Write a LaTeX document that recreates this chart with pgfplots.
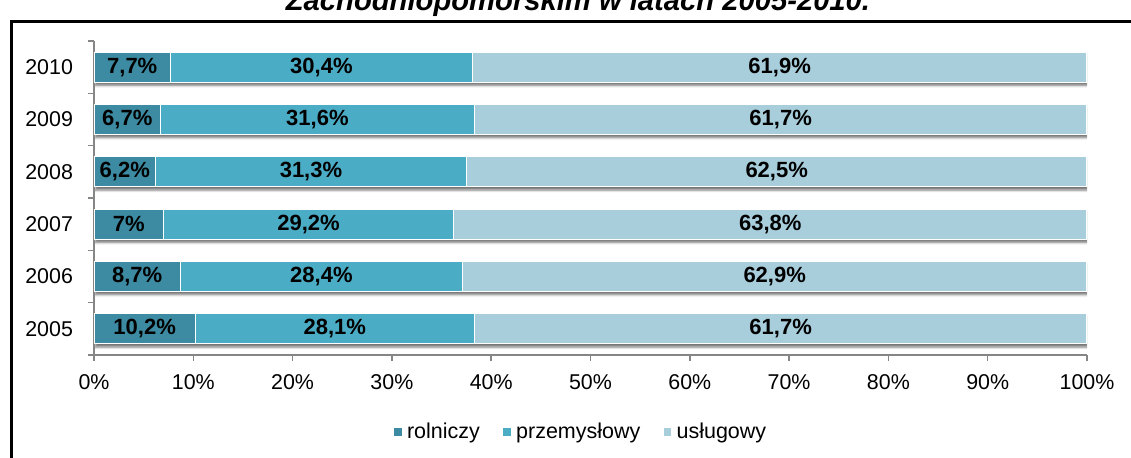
\documentclass[border=0pt]{standalone}
\usepackage{pgfplots}
\pgfplotsset{compat=1.18}
\usepackage{fontspec}
\setmainfont{Liberation Sans}
\usetikzlibrary{shadows.blur}
\definecolor{rol}{HTML}{3C8BA2}
\definecolor{prz}{HTML}{4BACC6}
\definecolor{usl}{HTML}{A8CEDC}
\definecolor{axgray}{HTML}{868686}
\pgfplotsset{
  base/.style={
    scale only axis, width=496.5pt, height=157pt,
    at={(47pt,51pt)}, anchor=south west,
    xmin=0, xmax=100, ymin=-0.5, ymax=5.5,
    bar width=15pt,
  },
}
\begin{document}
\begin{tikzpicture}[x=0.5pt,y=0.5pt]
\useasboundingbox (0,0) rectangle (1131,457);
\draw[line width=1.5pt] (11.5,-30) -- (11.5,436) -- (1160,436);
\node[font=\bfseries\itshape\fontsize{14.6}{17}\selectfont, anchor=base] at (578,447) {Zachodniopomorskim w latach 2005-2010.};

% shadow layer
\begin{axis}[base, hide axis]
\addplot[xbar, fill=white, draw=none, bar shift=0pt,
  blur shadow={shadow xshift=0.6pt, shadow yshift=-1.6pt, shadow opacity=55, shadow blur radius=1.2pt}]
  coordinates {(100,0) (100,1) (100,2) (100,3) (100,4) (100,5)};
\end{axis}

% main bars
\begin{axis}[base, xbar stacked,
  axis x line*=bottom, axis y line*=left,
  axis line style={axgray, line width=0.75pt},
  tick align=outside,
  major tick length=3pt,
  tick style={axgray, line width=0.75pt},
  xtick={0,10,...,100},
  xticklabel={\pgfmathprintnumber{\tick}\%},
  /pgf/number format/assume math mode=true,
  ytick={-0.5,0.5,1.5,2.5,3.5,4.5,5.5},
  yticklabels={},
  extra y ticks={0,1,2,3,4,5},
  extra y tick labels={2005,2006,2007,2008,2009,2010},
  extra y tick style={major tick length=0pt, yticklabel style={xshift=-7pt}},
  ticklabel style={font=\fontsize{10.7}{12}\selectfont, text=black},
  xticklabel style={yshift=-3pt},
  legend style={at={(0.491,-0.245)}, anchor=center, draw=none, fill=none,
    legend columns=3, font=\fontsize{10.75}{12}\selectfont,
    /tikz/every even column/.append style={column sep=9pt}},
  legend image code/.code={\fill[#1] (0pt,-2.2pt) rectangle (4.5pt,2.3pt);},
  legend cell align=left,
]
\addplot[fill=rol, draw=white, line width=0.6pt] coordinates {(10.2,0) (8.7,1) (7,2) (6.2,3) (6.7,4) (7.7,5)};
\addplot[fill=prz, draw=white, line width=0.6pt] coordinates {(28.1,0) (28.4,1) (29.2,2) (31.3,3) (31.6,4) (30.4,5)};
\addplot[fill=usl, draw=white, line width=0.6pt] coordinates {(61.7,0) (62.9,1) (63.8,2) (62.5,3) (61.7,4) (61.9,5)};
\legend{rolniczy, przemysłowy, usługowy}
\end{axis}

% labels
\begin{axis}[base, hide axis]
\addplot[draw=none, mark=none, nodes near coords, point meta=explicit symbolic,
  nodes near coords align=center,
  every node near coord/.append style={anchor=center, font=\bfseries\fontsize{11}{12}\selectfont, text=black}]
  coordinates {
  (5.1,0) [10,2\%] (4.35,1) [8,7\%] (3.5,2) [7\%] (3.1,3) [6,2\%] (3.35,4) [6,7\%] (3.85,5) [7,7\%]
  (24.25,0) [28,1\%] (22.9,1) [28,4\%] (21.6,2) [29,2\%] (21.85,3) [31,3\%] (22.5,4) [31,6\%] (22.9,5) [30,4\%]
  (69.15,0) [61,7\%] (68.55,1) [62,9\%] (68.1,2) [63,8\%] (68.75,3) [62,5\%] (69.15,4) [61,7\%] (69.05,5) [61,9\%]
  };
\end{axis}
\end{tikzpicture}
\end{document}
